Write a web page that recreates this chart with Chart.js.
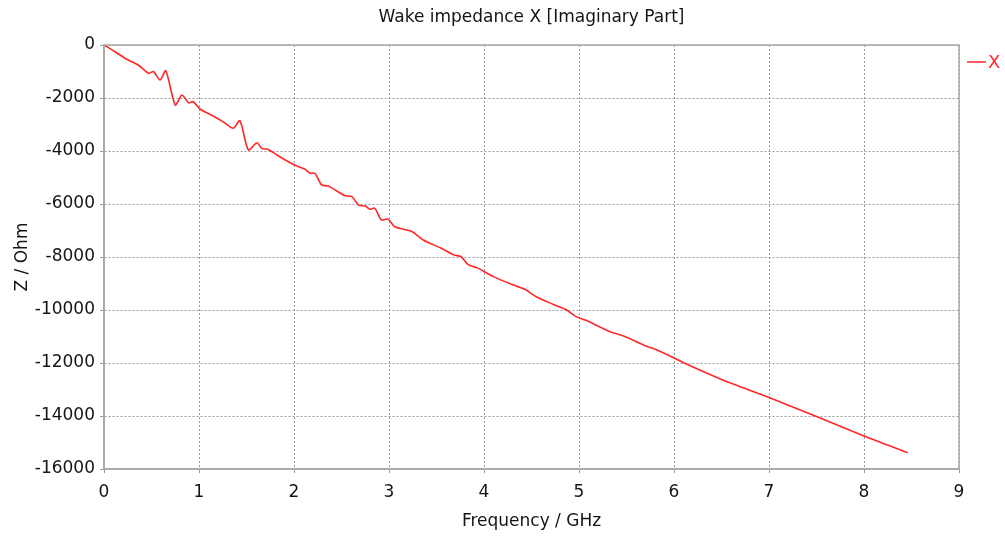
<!DOCTYPE html>
<html>
<head>
<meta charset="utf-8">
<script src="https://cdn.jsdelivr.net/npm/chart.js@4/dist/chart.umd.min.js"></script>
<style>
  html, body { margin: 0; padding: 0; background: #fff; }
  #wrap { width: 1005px; height: 538px; }
</style>
</head>
<body>
<div id="wrap"><canvas id="chart" width="1005" height="538"></canvas></div>
<script>
const chartTitle = 'Wake impedance X [Imaginary Part]';
const seriesName = 'X';

// frequency in GHz
const freqs = [0, 0.03, 0.116, 0.24, 0.36, 0.47, 0.52, 0.59, 0.65, 0.75, 0.82, 0.89, 0.94, 1.01,
  1.13, 1.255, 1.36, 1.43, 1.52, 1.61, 1.66, 1.73, 1.82, 1.99, 2.115, 2.17, 2.22, 2.29, 2.36,
  2.45, 2.54, 2.61, 2.68, 2.75, 2.80, 2.85, 2.92, 2.99, 3.06, 3.24, 3.36, 3.55, 3.68, 3.76,
  3.83, 3.94, 4.10, 4.31, 4.43, 4.55, 4.73, 4.87, 4.97, 5.08, 5.33, 5.47, 5.68, 5.82, 5.99,
  6.13, 6.5, 7.0, 7.5, 8.0, 8.46];

// Z in Ohm
const impedance = [0, -60, -253, -540, -755, -1070, -1000, -1320, -970, -2264, -1887, -2180, -2140, -2415,
  -2640, -2900, -3140, -2860, -3960, -3690, -3900, -3940, -4150, -4500, -4690, -4840, -4840, -5280, -5320,
  -5510, -5690, -5720, -6040, -6080, -6200, -6160, -6600, -6570, -6860, -7040, -7360, -7670, -7920, -7990,
  -8280, -8430, -8740, -9060, -9220, -9500, -9790, -10000, -10250, -10400, -10820, -10980, -11320, -11510, -11790,
  -12040, -12620, -13300, -14020, -14755, -15385];

const xTicks = [0, 1, 2, 3, 4, 5, 6, 7, 8, 9];
const yTicks = [0, -2000, -4000, -6000, -8000, -10000, -12000, -14000, -16000];

const points = freqs.map((f, i) => ({ x: f, y: impedance[i] }));
const fontFamily = '"DejaVu Sans", sans-serif';
const textColor = '#151515';
const frameColor = '#a8a8a8';

// frame, title above plot, and legend at the right
const decorations = {
  id: 'decorations',
  afterDraw(chart) {
    const ctx = chart.ctx;
    const area = chart.chartArea;
    ctx.save();
    ctx.strokeStyle = frameColor;
    ctx.lineWidth = 1.5;
    ctx.strokeRect(area.left, area.top, area.right - area.left, area.bottom - area.top);

    ctx.fillStyle = textColor;
    ctx.font = '17px ' + fontFamily;
    ctx.textAlign = 'center';
    ctx.textBaseline = 'middle';
    ctx.fillText(chartTitle, (area.left + area.right) / 2, 18);

    const color = chart.data.datasets[0].borderColor;
    ctx.strokeStyle = color;
    ctx.lineWidth = 1.5;
    ctx.beginPath();
    ctx.moveTo(area.right + 8, 62);
    ctx.lineTo(area.right + 27, 62);
    ctx.stroke();
    ctx.fillStyle = color;
    ctx.font = '18px ' + fontFamily;
    ctx.textAlign = 'left';
    ctx.fillText(seriesName, area.right + 29, 63);
    ctx.restore();
  }
};

new Chart(document.getElementById('chart'), {
  type: 'line',
  data: {
    datasets: [{
      label: seriesName,
      data: points,
      borderColor: 'rgb(255, 40, 40)',
      borderWidth: 1.6,
      pointRadius: 0,
      tension: 0.25,
      fill: false
    }]
  },
  options: {
    responsive: false,
    animation: false,
    layout: { padding: { top: 45, right: 46, left: 0, bottom: 0 } },
    plugins: {
      legend: { display: false },
      title: { display: false },
      tooltip: { enabled: false }
    },
    scales: {
      x: {
        type: 'linear',
        min: 0,
        max: 9,
        afterBuildTicks: scale => { scale.ticks = xTicks.map(v => ({ value: v })); },
        afterFit: scale => { scale.height = 69; },
        ticks: { color: textColor, font: { family: fontFamily, size: 17 }, padding: 9,
          callback: v => String(v) },
        grid: { color: '#9a9a9a', tickLength: 4 },
        border: { color: frameColor, width: 1.5, dash: [2, 2] },
        title: {
          display: true, text: 'Frequency / GHz', color: textColor,
          font: { family: fontFamily, size: 17 }, padding: { top: 2, bottom: 6 }
        }
      },
      y: {
        min: -16000,
        max: 0,
        afterBuildTicks: scale => { scale.ticks = yTicks.map(v => ({ value: v })); },
        afterFit: scale => { scale.width = 104; },
        ticks: { color: textColor, font: { family: fontFamily, size: 17 }, padding: 5,
          callback: v => String(v) },
        grid: { color: '#9a9a9a', tickLength: 4 },
        border: { color: frameColor, width: 1.5, dash: [2, 2] },
        title: {
          display: true, text: 'Z / Ohm', color: textColor,
          font: { family: fontFamily, size: 17 }, padding: { top: 12, bottom: 4 }
        }
      }
    }
  },
  plugins: [decorations]
});
</script>
</body>
</html>
